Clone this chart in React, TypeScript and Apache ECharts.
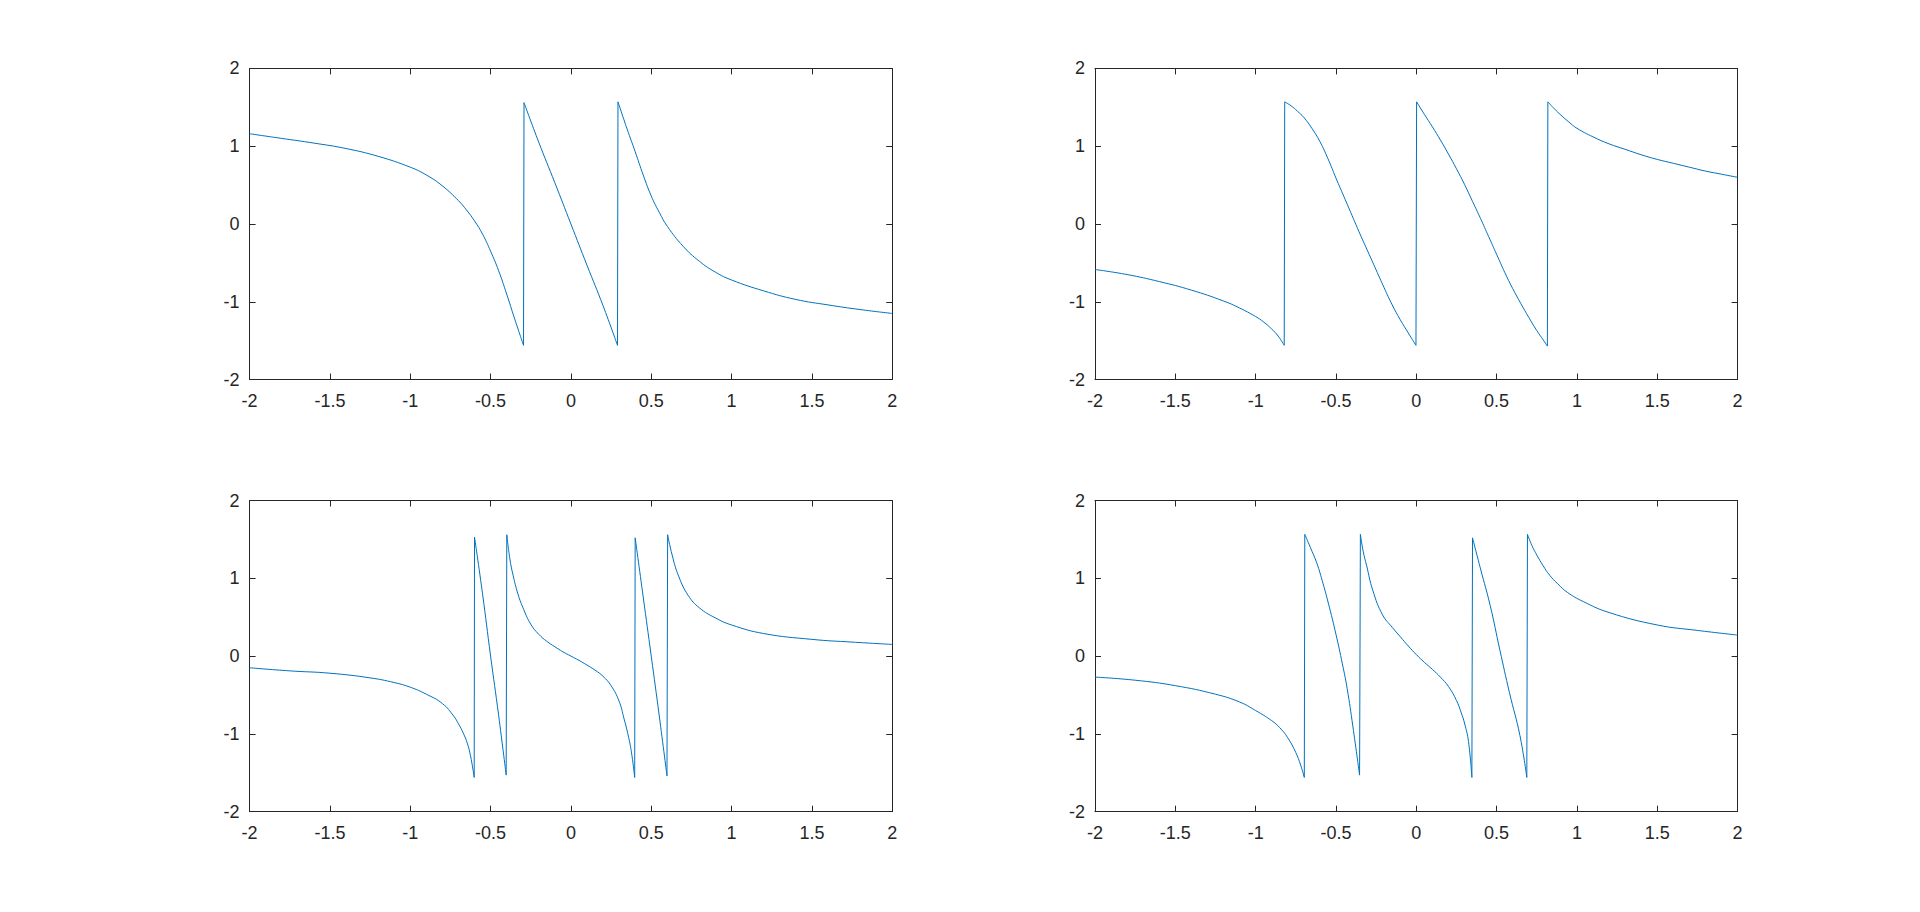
import React, { useEffect, useRef } from "react";
import * as echarts from "echarts";

// x ticks and y ticks of every subplot
const xTicks = [-2, -1.5, -1, -0.5, 0, 0.5, 1, 1.5, 2];
const yTicks = [-2, -1, 0, 1, 2];

// Subplot (1,1): top-left — continuous branches between the jumps
const topLeftBranches = [
  [
    [-2, 1.16], [-1.8, 1.1], [-1.6, 1.04], [-1.4, 0.97], [-1.2, 0.87], [-1.0, 0.73],
    [-0.9, 0.63], [-0.8, 0.49], [-0.7, 0.3], [-0.65, 0.18], [-0.6, 0.04], [-0.55, -0.13],
    [-0.5, -0.35], [-0.45, -0.6], [-0.4, -0.9], [-0.35, -1.22], [-0.295, -1.56],
  ],
  [
    [-0.292, 1.56], [-0.2, 1.05], [-0.1, 0.53], [0, 0], [0.1, -0.53], [0.2, -1.05], [0.29, -1.56],
  ],
  [
    [0.293, 1.57], [0.35, 1.22], [0.4, 0.93], [0.45, 0.63], [0.5, 0.36], [0.55, 0.15],
    [0.6, -0.03], [0.7, -0.29], [0.8, -0.48], [0.9, -0.62], [1.0, -0.72], [1.2, -0.86],
    [1.4, -0.97], [1.6, -1.04], [1.8, -1.1], [2, -1.15],
  ],
];

// Subplot (1,2): top-right
const topRightBranches = [
  [
    [-2, -0.585], [-1.8, -0.65], [-1.6, -0.74], [-1.4, -0.85], [-1.2, -0.99], [-1.1, -1.08],
    [-1.0, -1.19], [-0.95, -1.26], [-0.9, -1.35], [-0.86, -1.44], [-0.822, -1.56],
  ],
  [
    [-0.819, 1.57], [-0.78, 1.52], [-0.74, 1.45], [-0.7, 1.37], [-0.65, 1.23], [-0.6, 1.06],
    [-0.55, 0.84], [-0.5, 0.59], [-0.45, 0.35], [-0.4, 0.11], [-0.35, -0.13], [-0.3, -0.36],
    [-0.25, -0.59], [-0.2, -0.82], [-0.15, -1.04], [-0.1, -1.23], [-0.05, -1.4], [-0.002, -1.56],
  ],
  [
    [0.002, 1.57], [0.05, 1.41], [0.1, 1.25], [0.15, 1.08], [0.2, 0.9], [0.25, 0.71], [0.3, 0.51],
    [0.35, 0.29], [0.4, 0.07], [0.45, -0.16], [0.5, -0.39], [0.55, -0.62], [0.6, -0.83],
    [0.65, -1.02], [0.7, -1.2], [0.75, -1.37], [0.79, -1.49], [0.816, -1.57],
  ],
  [
    [0.819, 1.57], [0.86, 1.48], [0.9, 1.4], [0.95, 1.31], [1.0, 1.23], [1.1, 1.12], [1.2, 1.03],
    [1.3, 0.96], [1.4, 0.89], [1.5, 0.83], [1.6, 0.78], [1.7, 0.73], [1.8, 0.68], [1.9, 0.64],
    [2, 0.6],
  ],
];

// Subplot (2,1): bottom-left
const bottomLeftBranches = [
  [
    [-2, -0.15], [-1.75, -0.19], [-1.5, -0.22], [-1.25, -0.28], [-1.1, -0.34], [-1.0, -0.4],
    [-0.9, -0.49], [-0.8, -0.61], [-0.73, -0.77], [-0.7, -0.87], [-0.67, -0.99], [-0.645, -1.12],
    [-0.625, -1.28], [-0.602, -1.56],
  ],
  [
    [-0.6, 1.53], [-0.55, 0.8], [-0.5, 0.0], [-0.45, -0.76], [-0.403, -1.53],
  ],
  [
    [-0.399, 1.56], [-0.38, 1.25], [-0.36, 1.04], [-0.33, 0.8], [-0.3, 0.63], [-0.25, 0.41],
    [-0.2, 0.28], [-0.15, 0.19], [-0.1, 0.12], [-0.05, 0.055], [0, 0], [0.05, -0.055],
    [0.1, -0.115], [0.15, -0.18], [0.2, -0.26], [0.25, -0.38], [0.3, -0.58], [0.33, -0.8],
    [0.36, -1.05], [0.38, -1.28], [0.397, -1.56],
  ],
  [
    [0.4, 1.52], [0.45, 0.76], [0.5, 0.0], [0.55, -0.77], [0.598, -1.54],
  ],
  [
    [0.602, 1.56], [0.63, 1.3], [0.67, 1.03], [0.73, 0.78], [0.8, 0.62], [0.9, 0.49],
    [1.0, 0.4], [1.2, 0.29], [1.5, 0.215], [1.75, 0.18], [2, 0.15],
  ],
];

// Subplot (2,2): bottom-right
const bottomRightBranches = [
  [
    [-2, -0.27], [-1.75, -0.31], [-1.5, -0.38], [-1.25, -0.49], [-1.1, -0.59], [-1.0, -0.7],
    [-0.9, -0.83], [-0.85, -0.92], [-0.8, -1.05], [-0.75, -1.24], [-0.72, -1.4], [-0.697, -1.56],
  ],
  [
    [-0.694, 1.565], [-0.66, 1.4], [-0.62, 1.2], [-0.58, 0.93], [-0.54, 0.62], [-0.5, 0.28],
    [-0.46, -0.1], [-0.43, -0.42], [-0.395, -0.9], [-0.353, -1.53],
  ],
  [
    [-0.348, 1.565], [-0.33, 1.34], [-0.31, 1.17], [-0.27, 0.84], [-0.21, 0.53], [-0.15, 0.37],
    [-0.1, 0.25], [-0.05, 0.13], [0, 0.02], [0.05, -0.08], [0.1, -0.17], [0.15, -0.27],
    [0.2, -0.39], [0.25, -0.57], [0.28, -0.73], [0.3, -0.86], [0.325, -1.1], [0.346, -1.56],
  ],
  [
    [0.35, 1.52], [0.4, 1.12], [0.46, 0.65], [0.52, 0.08], [0.58, -0.47], [0.645, -1.02],
    [0.688, -1.56],
  ],
  [
    [0.692, 1.565], [0.72, 1.42], [0.75, 1.3], [0.79, 1.16], [0.83, 1.04], [0.88, 0.93],
    [0.94, 0.82], [1.04, 0.7], [1.2, 0.56], [1.5, 0.4], [1.75, 0.33], [2, 0.27],
  ],
];

const subplots = [topLeftBranches, topRightBranches, bottomLeftBranches, bottomRightBranches];

const AXIS_COLOR = "#262626";
const LINE_COLOR = "#0072BD";
const FONT = '"Liberation Sans", Arial, Helvetica, sans-serif';

export default function App() {
  const ref = useRef<HTMLDivElement | null>(null);

  useEffect(() => {
    if (!ref.current) return;
    const chart = echarts.init(ref.current, undefined, { renderer: "svg" });

    const W = 1920;
    const H = 912;
    const lefts = [0.13 * W, 0.5703 * W];
    const axW = 0.3347 * W;
    const axH = 0.3412 * H;
    const tops = [H - (0.5838 + 0.3412) * H, H - (0.11 + 0.3412) * H];

    const grids: any[] = [];
    const xAxes: any[] = [];
    const yAxes: any[] = [];
    const series: any[] = [];

    const xMin = xTicks[0];
    const xMax = xTicks[xTicks.length - 1];
    const xInt = xTicks[1] - xTicks[0];
    const yMin = yTicks[0];
    const yMax = yTicks[yTicks.length - 1];
    const yInt = yTicks[1] - yTicks[0];

    const axisLine = { show: true, onZero: false, lineStyle: { color: AXIS_COLOR, width: 1 } };
    const axisTick = { show: true, inside: true, length: 6, lineStyle: { color: AXIS_COLOR, width: 1 } };
    const lineStyle = { color: LINE_COLOR, width: 1 };

    subplots.forEach((branches, i) => {
      const row = Math.floor(i / 2);
      const col = i % 2;
      grids.push({ left: lefts[col], top: tops[row], width: axW, height: axH, containLabel: false });
      const base = { type: "value", gridIndex: i, splitLine: { show: false }, axisLine, axisTick };
      xAxes.push({
        ...base, position: "bottom", min: xMin, max: xMax, interval: xInt,
        axisLabel: { show: true, color: AXIS_COLOR, fontSize: 18, fontFamily: FONT, margin: 12 },
      });
      xAxes.push({
        ...base, position: "top", min: xMin, max: xMax, interval: xInt,
        axisLabel: { show: false },
      });
      yAxes.push({
        ...base, position: "left", min: yMin, max: yMax, interval: yInt,
        axisLabel: { show: true, color: AXIS_COLOR, fontSize: 18, fontFamily: FONT, margin: 10 },
      });
      yAxes.push({
        ...base, position: "right", min: yMin, max: yMax, interval: yInt,
        axisLabel: { show: false },
      });
      branches.forEach((branch, k) => {
        // smooth continuous piece
        series.push({
          type: "line",
          xAxisIndex: i * 2,
          yAxisIndex: i * 2,
          data: branch,
          smooth: 0.45,
          showSymbol: false,
          symbol: "none",
          lineStyle,
          emphasis: { disabled: true },
        });
        // near-vertical jump joining this piece to the next one
        if (k < branches.length - 1) {
          const next = branches[k + 1];
          series.push({
            type: "line",
            xAxisIndex: i * 2,
            yAxisIndex: i * 2,
            data: [branch[branch.length - 1], next[0]],
            showSymbol: false,
            symbol: "none",
            lineStyle,
            emphasis: { disabled: true },
          });
        }
      });
    });

    chart.setOption({
      animation: false,
      backgroundColor: "#ffffff",
      grid: grids,
      xAxis: xAxes,
      yAxis: yAxes,
      series,
    });

    return () => chart.dispose();
  }, []);

  return (
    <div
      ref={ref}
      style={{ position: "absolute", left: 0, top: 0, width: 1920, height: 912, background: "#ffffff" }}
    />
  );
}
